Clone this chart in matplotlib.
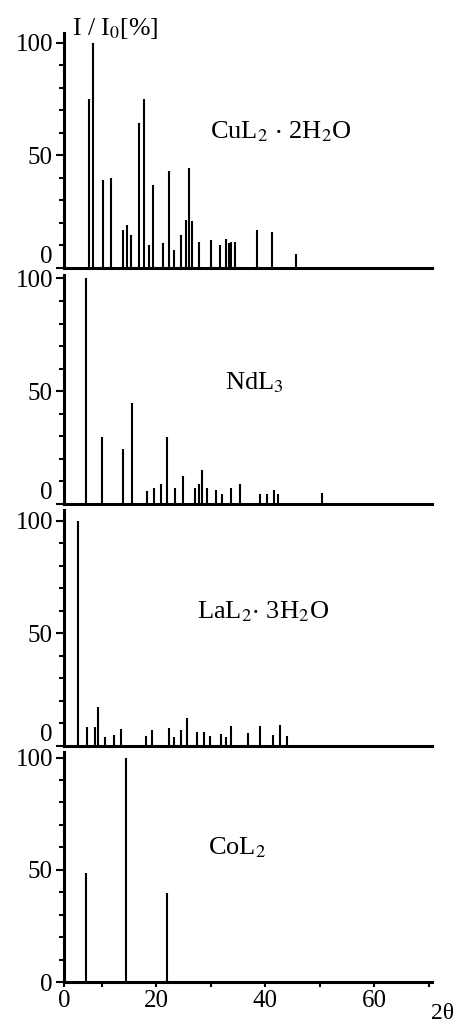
import numpy as np
import matplotlib
matplotlib.use("Agg")
import matplotlib.pyplot as plt
from matplotlib.ticker import MultipleLocator, FixedLocator

plt.rcParams['font.family'] = ['Liberation Serif', 'DejaVu Serif']
plt.rcParams['mathtext.fontset'] = 'stix'

# peak positions (2 theta) and relative intensities I/I0 [%]
cu_x = [7.6, 8.4, 10.2, 11.7, 13.9, 14.7, 15.3, 16.9, 17.7, 18.7, 19.4, 21.3,
        22.4, 23.3, 24.6, 25.4, 26.0, 26.5, 27.9, 30.0, 31.7, 32.8, 33.4, 33.8,
        34.4, 38.5, 41.3, 45.6]
cu_y = [75, 100, 39, 40, 16.7, 19, 14.6, 64.5, 75, 10.2, 37, 11,
        43.2, 8, 14.8, 21.3, 44.4, 21, 11.7, 12.3, 10.2, 13, 11, 11.5,
        11.7, 16.9, 16.1, 6.2]

nd_x = [7.2, 10.0, 14.0, 15.6, 18.4, 19.6, 20.9, 22.0, 23.4, 25.0, 27.1, 27.8,
        28.4, 29.4, 31.0, 32.1, 33.8, 35.3, 39.1, 40.3, 41.7, 42.4, 50.4]
nd_y = [100, 29.5, 24.5, 44.7, 5.6, 7.1, 8.8, 29.9, 7.1, 12.2, 7.1, 8.8,
        15, 7.1, 6, 4.4, 6.9, 8.8, 4.6, 4.6, 6.3, 4.6, 5]

la_x = [5.6, 7.3, 8.7, 9.4, 10.6, 12.2, 13.5, 18.2, 19.3, 22.4, 23.2, 24.6,
        25.6, 27.5, 28.8, 29.8, 31.9, 32.8, 33.8, 36.9, 39.0, 41.5, 42.8, 44.0]
la_y = [100, 8.3, 8.6, 17.3, 3.8, 5, 7.4, 4.3, 7.1, 7.8, 3.8, 7,
        12.3, 6.2, 6.4, 4.4, 5.2, 4, 8.9, 5.9, 8.9, 4.9, 9.5, 4.4]

co_x = [7.2, 14.5, 22.0]
co_y = [48.5, 100, 39.6]

names = [r'CuL$_2$ $\cdot$ 2H$_2$O', r'NdL$_3$', r'LaL$_2$$\cdot$ 3H$_2$O', r'CoL$_2$']
xs = [cu_x, nd_x, la_x, co_x]
ys = [cu_y, nd_y, la_y, co_y]

W, H = 457, 1022
fig = plt.figure(figsize=(W / 100, H / 100), dpi=100)

# panel boxes in pixels: (top, bottom, ymax)
boxes = [(33, 268, 104.4), (275, 504, 101.5), (510, 746, 104.7), (752, 982, 102.5)]
# name label positions in pixels (left x, center y)
name_pos = [(210, 132), (225, 383), (197, 612), (208, 848)]

x_left, x_right = 3.1, 70.6
px_left, px_right = 64, 432

for i, (top, bot, ymax) in enumerate(boxes):
    ax = fig.add_axes([px_left / W, 1 - bot / H, (px_right - px_left) / W, (bot - top) / H])
    ax.vlines(xs[i], 0, ys[i], color='black', linewidth=1.5)
    ax.set_xlim(x_left, x_right)
    ax.set_ylim(0, ymax)
    for s in ['top', 'right']:
        ax.spines[s].set_visible(False)
    ax.spines['left'].set_linewidth(2.2)
    ax.spines['bottom'].set_linewidth(2.2)
    ax.yaxis.set_major_locator(FixedLocator([0, 50, 100]))
    ax.yaxis.set_minor_locator(MultipleLocator(10))
    ax.tick_params(axis='y', which='major', length=6, width=1.5, labelsize=18, pad=2)
    ax.tick_params(axis='y', which='minor', length=3.5, width=1.5)
    ax.text((name_pos[i][0] - px_left) / (px_right - px_left), 1 - (name_pos[i][1] - top) / (bot - top),
            names[i], transform=ax.transAxes, fontsize=19, ha='left', va='center')
    if i < 3:
        ax.set_xticks([])
        # zero label sits on top of the axis line so it clears the panel below
        ax.get_yticklabels()[0].set_va('bottom')
    else:
        ax.xaxis.set_major_locator(FixedLocator([x_left, 20, 40, 60]))
        ax.set_xticklabels(['0', '20', '40', '60'])
        ax.xaxis.set_minor_locator(FixedLocator([10, 30, 50, 70]))
        ax.tick_params(axis='x', which='both', length=3.5, width=1.5, labelsize=18, pad=2)

fig.text(72 / W, 1 - 35 / H, r'I / I$_0$[%]', fontsize=18.5, ha='left', va='baseline')
fig.text(443 / W, 1 - 1013 / H, '2θ', fontsize=17, ha='center', va='center')

fig.savefig('out.png', dpi=100)
